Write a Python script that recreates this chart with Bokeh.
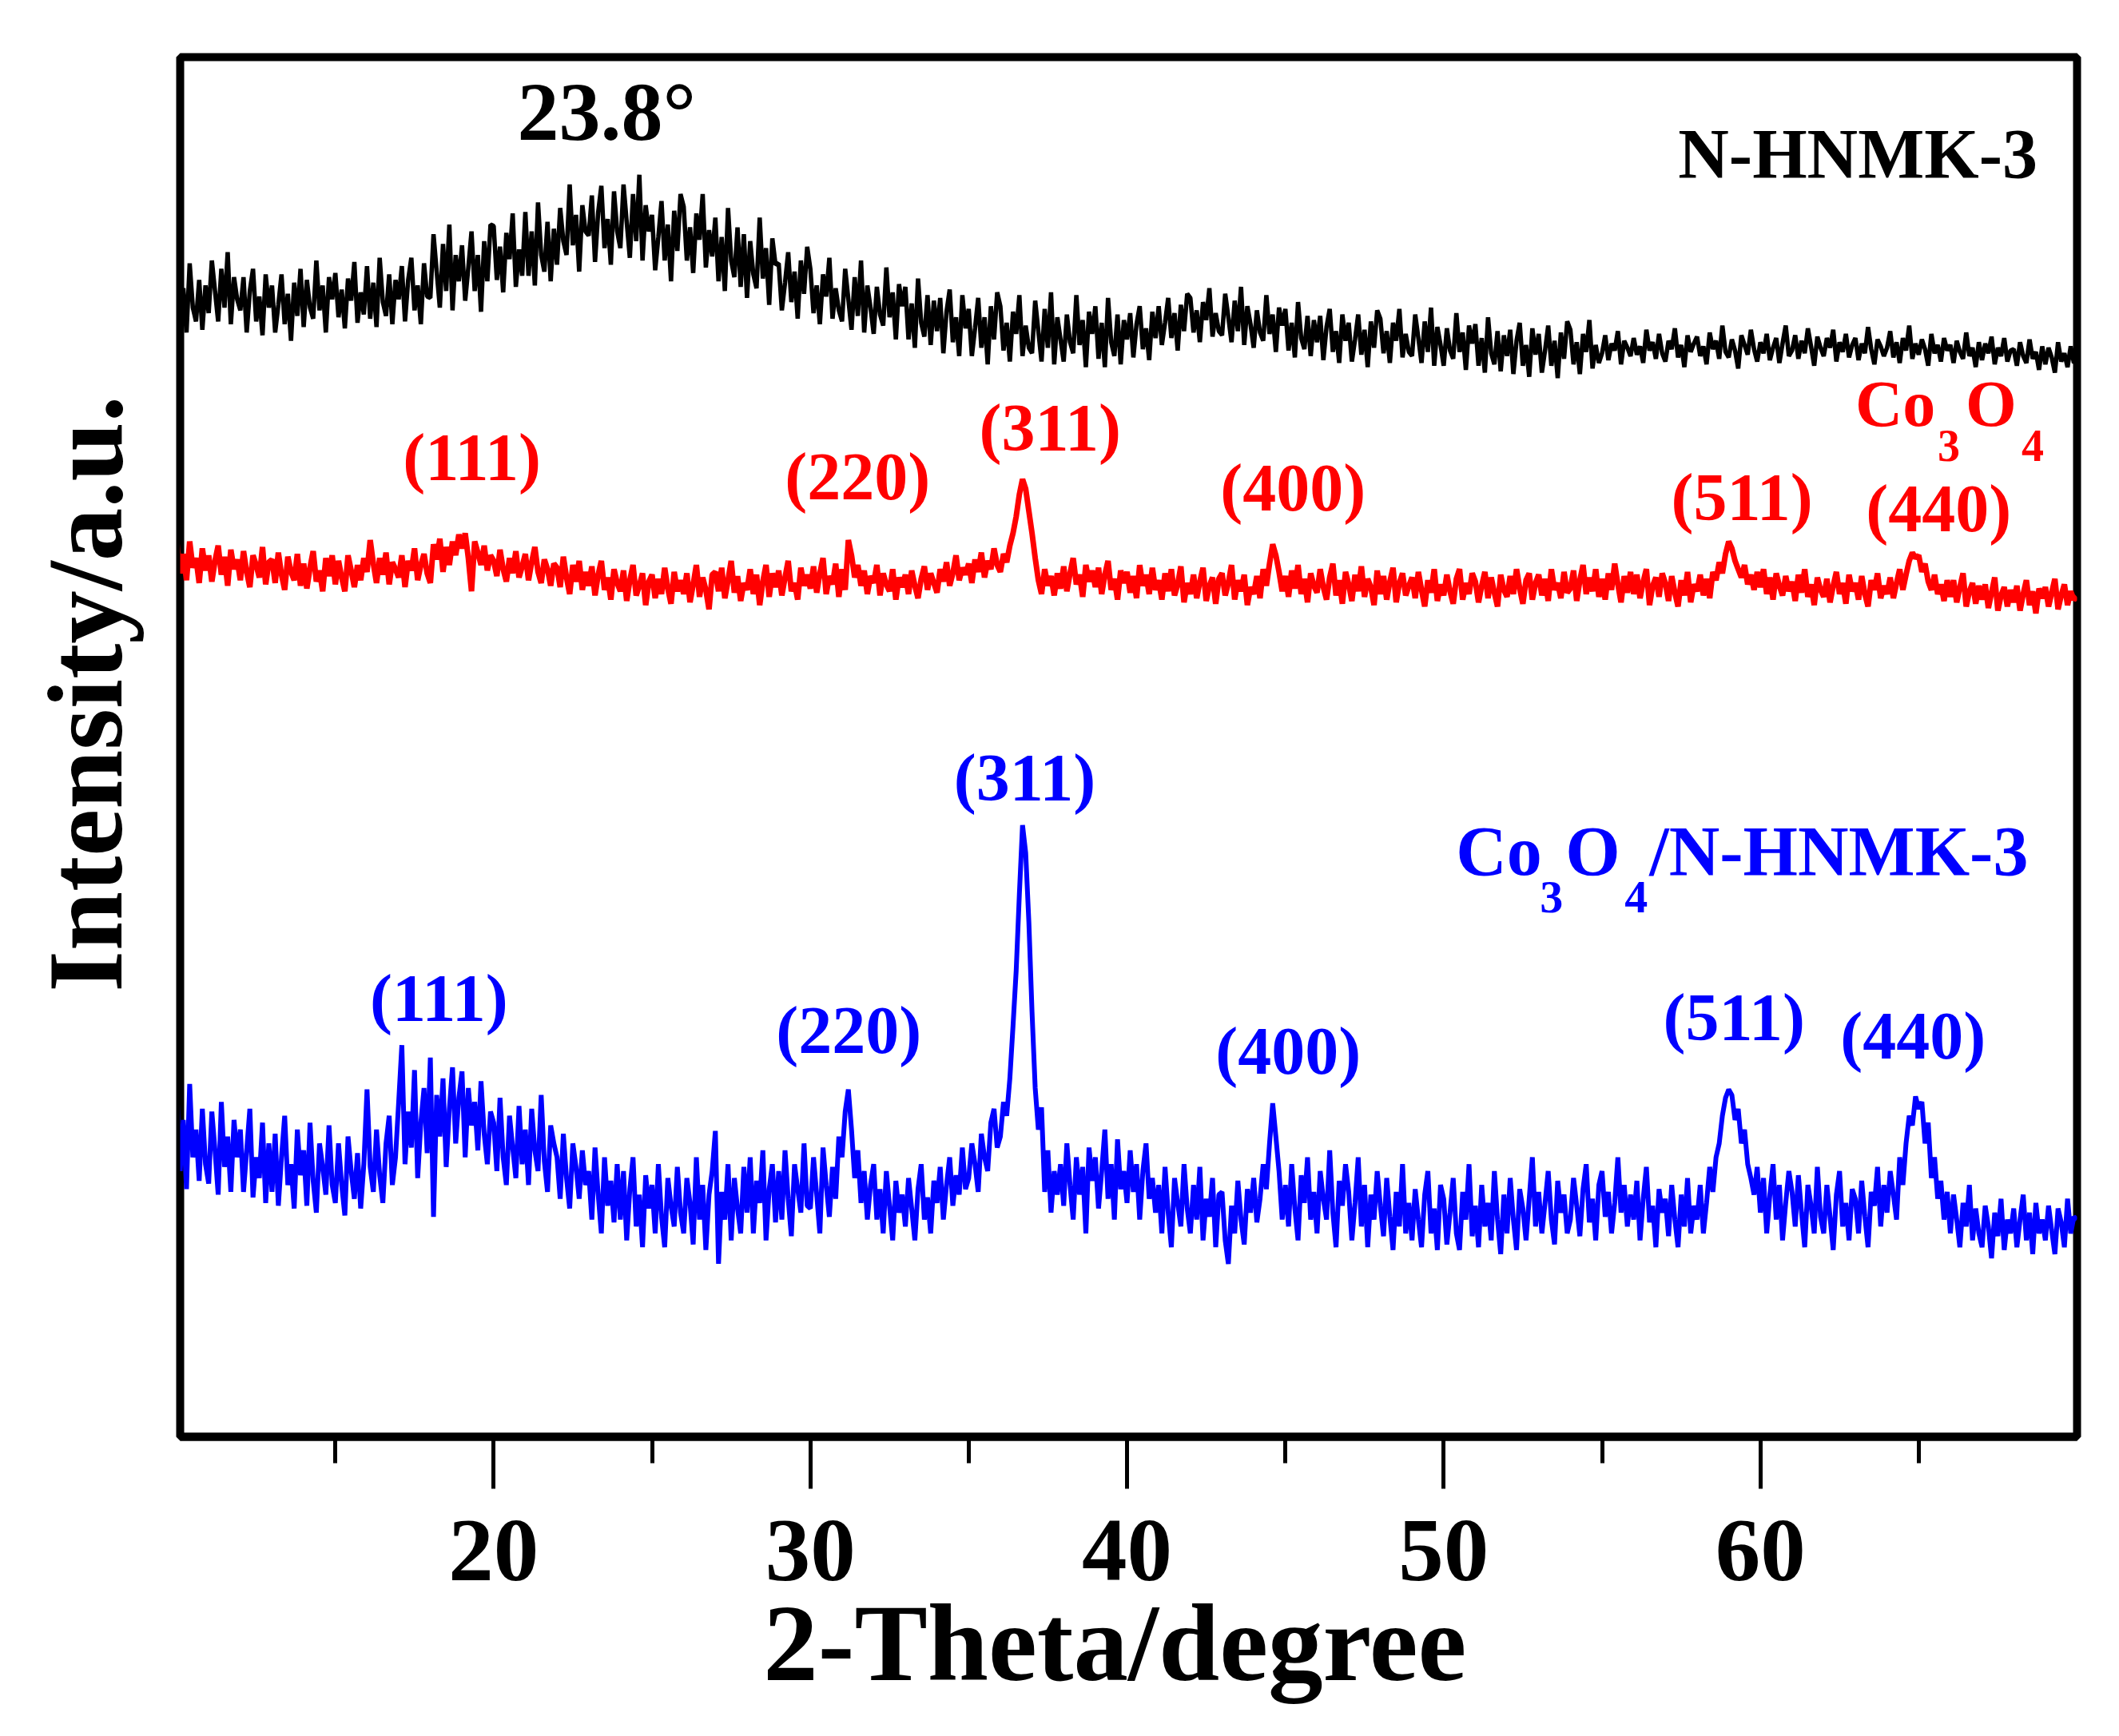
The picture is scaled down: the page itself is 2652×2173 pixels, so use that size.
import numpy as np
from bokeh.plotting import figure
from bokeh.models import Range1d, FixedTicker, ColumnDataSource
from bokeh.core.properties import value
from bokeh.embed import file_html
from bokeh.resources import INLINE

# 2-theta grid (degrees), 0.1 degree step
two_theta = np.round(np.arange(100, 701) / 10.0, 1)

# N-HNMK-3 (black, offset trace), a.u.
n_hnmk3 = [
    845, 807, 833, 801, 851, 819, 809, 839, 803, 835,
    815, 853, 831, 809, 847, 819, 859, 807, 841, 825,
    817, 841, 801, 831, 847, 809, 827, 799, 843, 819,
    835, 801, 821, 843, 807, 829, 795, 837, 813, 847,
    805, 839, 819, 811, 853, 817, 835, 801, 841, 825,
    844, 812, 832, 804, 840, 824, 852, 808, 830, 814,
    849, 811, 837, 805, 855, 823, 813, 843, 807, 839,
    825, 849, 809, 839, 855, 817, 835, 807, 851, 827,
    826, 872, 845, 819, 865, 831, 879, 817, 857, 838,
    864, 824, 848, 874, 831, 857, 816, 867, 838, 879,
    878, 839, 863, 830, 873, 854, 887, 834, 861, 842,
    888, 842, 874, 835, 895, 857, 845, 881, 838, 876,
    850, 891, 867, 857, 908, 864, 886, 845, 893, 874,
    871, 900, 852, 888, 907, 862, 883, 850, 903, 874,
    862, 908, 881, 855, 901, 867, 915, 853, 893, 874,
    886, 846, 870, 896, 853, 879, 838, 889, 860, 901,
    892, 853, 877, 844, 887, 868, 901, 848, 875, 856,
    884, 838, 870, 831, 891, 853, 841, 877, 834, 872,
    826, 867, 843, 833, 884, 840, 862, 821, 869, 850,
    851, 817, 837, 859, 823, 845, 811, 853, 829, 863,
    847, 815, 835, 807, 843, 827, 855, 811, 833, 817,
    809, 847, 825, 803, 841, 813, 853, 801, 835, 819,
    800, 834, 814, 806, 848, 812, 830, 796, 836, 820,
    834, 796, 822, 790, 840, 808, 798, 828, 792, 824,
    802, 826, 786, 816, 832, 794, 812, 784, 828, 804,
    818, 784, 804, 826, 790, 812, 778, 820, 796, 830,
    820, 788, 808, 780, 816, 800, 828, 784, 806, 790,
    786, 824, 802, 780, 818, 790, 830, 778, 812, 796,
    780, 814, 794, 786, 828, 792, 810, 776, 816, 800,
    820, 782, 808, 776, 826, 794, 784, 814, 778, 810,
    796, 815, 783, 807, 820, 789, 804, 781, 816, 797,
    820, 792, 808, 826, 797, 815, 788, 821, 802, 829,
    826, 801, 817, 794, 823, 810, 833, 798, 815, 802,
    799, 829, 812, 794, 824, 802, 834, 792, 820, 807,
    790, 817, 801, 795, 828, 800, 814, 787, 819, 806,
    818, 788, 808, 783, 823, 797, 789, 813, 784, 810,
    794, 813, 781, 805, 818, 787, 802, 779, 814, 795,
    808, 780, 796, 814, 785, 803, 776, 809, 790, 817,
    811, 786, 802, 779, 808, 795, 818, 783, 800, 787,
    784, 814, 797, 779, 809, 787, 819, 777, 805, 792,
    777, 804, 788, 782, 815, 787, 801, 774, 806, 793,
    807, 777, 797, 772, 812, 786, 778, 802, 773, 799,
    784, 803, 771, 795, 808, 777, 792, 769, 804, 785,
    800, 772, 788, 806, 777, 795, 768, 801, 782, 809,
    803, 778, 794, 771, 800, 787, 810, 775, 792, 779,
    786, 799, 781, 793, 788, 802, 778, 795, 790, 784,
    797, 785, 791, 779, 803, 788, 794, 782, 800, 786,
    780, 795, 789, 804, 783, 792, 776, 799, 787, 793,
    798, 784, 791, 778, 801, 789, 795, 782, 806, 787,
    783, 796, 788, 775, 799, 792, 785, 803, 789, 780,
    794, 786, 800, 781, 790, 797, 779, 793, 806, 784,
    788, 799, 782, 795, 786, 804, 791, 777, 798, 790,
    784, 797, 790, 803, 780, 794, 787, 800, 783, 792,
    797, 781, 793, 786, 805, 789, 778, 796, 791, 784,
    790, 802, 783, 794, 779, 797, 788, 806, 782, 793,
    785, 796, 789, 777, 800, 786, 792, 780, 797, 788,
    792, 779, 795, 787, 782, 801, 784, 790, 776, 794,
    781, 793, 786, 798, 778, 790, 784, 797, 780, 788,
    789, 777, 794, 784, 779, 796, 782, 787, 774, 791,
    778, 790, 783, 772, 794, 780, 786, 776, 791, 779,
    781,
]

# Co3O4 (red, offset trace), a.u.
co3o4 = [
    648, 627, 641, 622, 650, 631, 638, 620, 645, 629,
    640, 621, 636, 647, 626, 639, 618, 644, 630, 637,
    622, 643, 628, 617, 640, 633, 624, 646, 619, 635,
    637, 620, 642, 626, 615, 639, 628, 622, 641, 618,
    634, 616, 631, 643, 621, 629, 614, 638, 625, 640,
    619, 636, 624, 614, 640, 629, 617, 633, 622, 638,
    628, 651, 634, 620, 638, 626, 642, 619, 635, 630,
    624, 640, 617, 636, 629, 645, 622, 633, 641, 627,
    620, 648, 637, 652, 628, 646, 633, 650, 640, 655,
    645, 656, 638, 614, 650, 642, 633, 647, 629, 640,
    636, 625, 644, 630, 621, 638, 627, 643, 624, 632,
    641, 622, 635, 646, 628, 620, 637, 630, 618, 634,
    631, 617, 639, 624, 612, 633, 621, 636, 615, 628,
    618, 632, 611, 626, 636, 615, 624, 608, 630, 620,
    614, 629, 607, 622, 633, 611, 618, 627, 604, 621,
    626, 609, 623, 612, 631, 616, 605, 628, 614, 622,
    612, 627, 606, 619, 633, 610, 624, 615, 601, 626,
    628, 614, 631, 609, 622, 636, 613, 625, 607, 620,
    615, 630, 612, 626, 604, 621, 633, 610, 627, 617,
    629, 611, 624, 636, 614, 620, 608, 631, 618, 626,
    616, 632, 613, 627, 638, 612, 625, 619, 634, 610,
    630, 615, 651, 640, 624, 633, 618, 629, 612, 625,
    620, 633, 611, 627, 619, 614, 630, 608, 624, 617,
    626, 612, 629, 618, 609, 623, 632, 615, 627, 620,
    613, 630, 621, 635, 618, 627, 640, 622, 631, 626,
    634, 620, 637, 628, 642, 624, 636, 630, 645, 633,
    628, 641, 635, 647, 656, 668, 684, 695, 688, 672,
    656, 638, 622, 612, 630, 618, 625, 611, 627, 616,
    632, 614, 627, 638, 619, 626, 610, 633, 621, 629,
    617, 631, 612, 626, 636, 615, 623, 608, 629, 620,
    628, 613, 625, 609, 633, 618, 626, 612, 631, 615,
    622, 608, 627, 614, 630, 611, 619, 632, 606, 620,
    612, 626, 609, 621, 631, 607, 618, 624, 605, 623,
    627, 611, 620, 633, 608, 622, 614, 626, 604, 617,
    612, 625, 609, 630, 618, 634, 648, 640, 628, 614,
    625, 610, 629, 616, 633, 612, 623, 606, 627, 618,
    613, 630, 617, 608, 624, 634, 611, 622, 605, 628,
    619, 607, 626, 614, 632, 610, 623, 617, 604, 629,
    612, 625, 608, 621, 631, 606, 620, 627, 611, 618,
    624, 609, 628, 615, 603, 622, 613, 630, 607, 619,
    611, 626, 614, 605, 623, 630, 608, 620, 612, 627,
    621, 606, 618, 628, 609, 624, 613, 603, 626, 615,
    610, 625, 612, 630, 616, 605, 622, 627, 608, 620,
    626, 611, 623, 607, 630, 615, 620, 609, 628, 613,
    616, 629, 607, 622, 633, 612, 624, 614, 630, 610,
    623, 608, 627, 615, 634, 619, 606, 625, 613, 628,
    612, 626, 609, 621, 630, 604, 618, 624, 610, 627,
    620, 607, 625, 613, 603, 622, 611, 628, 606, 619,
    614, 626, 611, 623, 609, 628, 622, 635, 627, 641,
    650, 645, 636, 630, 624, 633, 619, 626, 615, 628,
    617, 630, 612, 624, 608, 627, 618, 611, 625, 614,
    621, 607, 626, 613, 630, 610, 619, 604, 624, 615,
    610, 623, 606, 618, 628, 612, 620, 605, 626, 614,
    620, 608, 625, 612, 603, 622, 615, 627, 609, 618,
    612, 624, 609, 620, 630, 615, 626, 636, 642, 638,
    640, 628, 634, 621, 615, 626, 612, 619, 607, 622,
    610, 622, 606, 617, 627, 603, 614, 620, 605, 618,
    608, 619, 602, 613, 624, 600, 611, 617, 603, 615,
    606, 618, 600, 612, 622, 604, 614, 598, 616, 609,
    617, 603, 613, 623, 601, 611, 619, 604, 614, 608,
    610,
]

# Co3O4/N-HNMK-3 (blue), a.u.
co3o4_nhnmk3 = [
    250, 195, 232, 182, 258, 205, 225, 188, 240, 200,
    186, 238, 210, 178, 245, 198, 220, 180, 232, 205,
    225, 180, 210, 240, 176, 205, 190, 230, 172, 215,
    180, 222, 170, 205, 235, 185, 200, 168, 225, 192,
    210, 170, 230, 188, 165, 215, 198, 178, 228, 185,
    172, 215, 185, 163, 220, 195, 175, 208, 168, 200,
    254, 198, 180, 225, 192, 172, 215, 235, 185, 205,
    245, 286, 200, 238, 212, 268, 190, 230, 255, 208,
    277, 162, 250, 220, 262, 198, 240, 270, 215, 248,
    267, 205, 255, 228, 245, 210, 260, 222, 200, 238,
    230, 195, 248, 205, 185, 235, 212, 190, 242, 200,
    225, 185, 240, 210, 195, 250, 202, 180, 228, 215,
    205, 175, 222, 190, 168, 215, 198, 175, 210, 185,
    195, 160, 212, 178, 150, 205, 170, 188, 158, 200,
    160, 195, 145, 182, 205, 155, 178, 140, 192, 168,
    185, 150, 200, 162, 140, 190, 170, 155, 198, 165,
    150, 190, 172, 142, 205, 160, 185, 138, 178, 195,
    224, 128, 180, 160, 200, 145, 190, 168, 150, 198,
    165, 205, 150, 188, 172, 210, 145, 182, 200, 158,
    195, 160, 210, 175, 148, 200, 182, 165, 215, 170,
    168, 205, 178, 150, 212, 185, 162, 198, 175, 220,
    205, 238, 254, 225, 190, 210, 172, 195, 160, 185,
    200, 160, 182, 150, 195, 170, 145, 188, 165, 178,
    155, 190, 168, 145, 182, 200, 160, 176, 150, 188,
    172, 198, 160, 185, 205, 170, 192, 178, 212, 182,
    190, 215, 200, 180, 222, 205, 195, 230, 240, 212,
    220, 245, 235, 262, 300, 340, 395, 445, 425, 375,
    310, 255, 225, 241, 180, 210, 165, 195, 178, 200,
    170, 215, 185, 160, 205, 178, 198, 150, 212, 188,
    205, 168, 195, 225, 175, 200, 160, 218, 182, 195,
    172, 210, 180, 200, 160, 195, 215, 175, 190, 165,
    185, 150, 198, 165, 140, 190, 172, 155, 200, 168,
    150, 185, 160, 198, 145, 175, 162, 190, 140, 178,
    180, 145, 128, 170, 150, 188, 160, 142, 182, 165,
    190, 158, 175, 200, 182, 215, 244, 220, 195, 160,
    185, 155, 200, 168, 145, 192, 172, 205, 160, 180,
    150, 195, 175, 160, 210, 165, 140, 188, 170, 200,
    180, 145, 172, 205, 155, 185, 140, 178, 160, 195,
    170, 148, 190, 162, 138, 180, 155, 200, 150, 172,
    145, 182, 160, 140, 178, 195, 150, 168, 138, 185,
    175, 142, 165, 190, 150, 138, 180, 160, 200, 148,
    170, 140, 185, 155, 172, 145, 195, 160, 135, 178,
    150, 190, 160, 138, 182, 168, 145, 175, 205, 155,
    180, 150, 172, 195, 160, 142, 188, 165, 178, 150,
    160, 190, 170, 148, 182, 200, 158, 175, 145, 185,
    195, 162, 180, 150, 172, 205, 165, 185, 155, 178,
    160, 188, 145, 175, 198, 158, 170, 140, 182, 165,
    175, 148, 185, 160, 140, 178, 155, 190, 150, 170,
    160, 185, 150, 172, 198, 180, 205, 215, 235, 248,
    254, 250, 232, 240, 215, 225, 200, 190, 178, 198,
    165, 190, 150, 178, 200, 160, 185, 145, 172, 195,
    180, 155, 192, 165, 140, 185, 170, 150, 198, 162,
    150, 185, 162, 138, 178, 195, 155, 172, 145, 182,
    175, 150, 188, 162, 140, 180, 170, 198, 155, 185,
    165, 195, 178, 160, 205, 185, 215, 235, 228, 249,
    240, 245, 215, 230, 190, 205, 175, 188, 160, 180,
    150, 178, 160, 140, 172, 155, 185, 145, 168, 150,
    140, 170, 155, 132, 165, 148, 175, 138, 160, 150,
    168, 140, 160, 178, 145, 165, 135, 172, 150, 160,
    145, 170, 152, 135, 168, 158, 140, 175, 150, 162,
    160,
]

hkl = ["(111)", "(220)", "(311)", "(400)", "(511)", "(440)"]
hkl_red_x = [19.31, 31.49, 37.57, 45.24, 59.42, 65.63]
hkl_red_y = [711, 697, 732, 689, 682, 674]
hkl_blue_x = [18.27, 31.21, 36.77, 45.09, 59.17, 64.82]
hkl_blue_y = [320, 297, 479, 282, 306, 293]

x_ticks = [20, 30, 40, 50, 60]
x_minor = [15, 25, 35, 45, 55, 65]

NBSP = "\u00a0"
SERIF = value("Liberation Serif")

p = figure(width=2636, height=2165,
           x_range=Range1d(10.1, 70.0), y_range=Range1d(3, 1000),
           output_backend="svg", toolbar_location=None,
           min_border_left=225, min_border_right=37,
           min_border_top=71, min_border_bottom=367)
p.grid.visible = False
p.background_fill_color = "white"
p.border_fill_color = "white"
p.outline_line_color = "black"
p.outline_line_width = 10

p.line(two_theta, n_hnmk3, line_color="#000000", line_width=5.5)
p.line(two_theta, co3o4, line_color="#FF0000", line_width=7)
p.line(two_theta, co3o4_nhnmk3, line_color="#0000FF", line_width=6)

# x axis
xa = p.xaxis[0]
xa.ticker = FixedTicker(ticks=x_ticks, minor_ticks=x_minor)
xa.axis_line_width = 10
xa.axis_line_color = "black"
xa.major_tick_line_width = 5
xa.minor_tick_line_width = 5
xa.major_tick_out = 65
xa.major_tick_in = 0
xa.minor_tick_out = 33
xa.minor_tick_in = 0
xa.major_label_standoff = 40
xa.major_label_text_font = "Liberation Serif"
xa.major_label_text_font_style = "bold"
xa.major_label_text_font_size = "113px"
xa.major_label_text_color = "black"
xa.axis_label = "2-Theta/degree" + NBSP
xa.axis_label_text_font = "Liberation Serif"
xa.axis_label_text_font_style = "bold"
xa.axis_label_text_font_size = "137px"
xa.axis_label_text_color = "black"
xa.axis_label_standoff = 0

# y axis (no ticks)
ya = p.yaxis[0]
ya.ticker = FixedTicker(ticks=[])
ya.axis_line_color = None
ya.major_tick_line_color = None
ya.minor_tick_line_color = None
ya.major_label_text_font_size = "0px"
ya.axis_label = NBSP * 4 + "Intensity/a.u."
ya.axis_label_text_font = "Liberation Serif"
ya.axis_label_text_font_style = "bold"
ya.axis_label_text_font_size = "133px"
ya.axis_label_text_color = "black"
ya.axis_label_standoff = 45

common = dict(text_font=SERIF, text_font_style="bold")

# black annotations
p.text(x=[23.57], y=[961], text=["23.8\u00b0"], text_align="center",
       text_baseline="alphabetic", text_font_size="104px", text_color="black", **common)
p.text(x=[68.75], y=[930], text=["N-HNMK-3"], text_align="right",
       text_baseline="alphabetic", text_font_size="88px", text_color="black", **common)

# Miller indices
p.text(x=hkl_red_x, y=hkl_red_y, text=hkl, text_align="center",
       text_baseline="alphabetic", text_font_size="84px", text_color="#FF0000", **common)
p.text(x=hkl_blue_x, y=hkl_blue_y, text=hkl, text_align="center",
       text_baseline="alphabetic", text_font_size="84px", text_color="#0000FF", **common)

# formula labels with subscripts
red_parts = ColumnDataSource(dict(
    x=[63.0] * 4, y=[749.5] * 4, text=["Co", "3", "O", "4"],
    dx=[0, 103, 138, 208], dy=[0, 53, 0, 53],
    size=["82px", "56px", "82px", "56px"]))
p.text(x="x", y="y", text="text", x_offset="dx", y_offset="dy", text_font_size="size",
       text_align="left", text_baseline="alphabetic", text_color="#FF0000",
       source=red_parts, **common)

blue_parts = ColumnDataSource(dict(
    x=[50.39] * 5, y=[426.4] * 5, text=["Co", "3", "O", "4", "/N-HNMK-3"],
    dx=[0, 105, 137, 211, 242], dy=[0, 58, 0, 58, 0],
    size=["88px", "58px", "88px", "58px", "88px"]))
p.text(x="x", y="y", text="text", x_offset="dx", y_offset="dy", text_font_size="size",
       text_align="left", text_baseline="alphabetic", text_color="#0000FF",
       source=blue_parts, **common)

open("out.html", "w").write(file_html(p, INLINE))
